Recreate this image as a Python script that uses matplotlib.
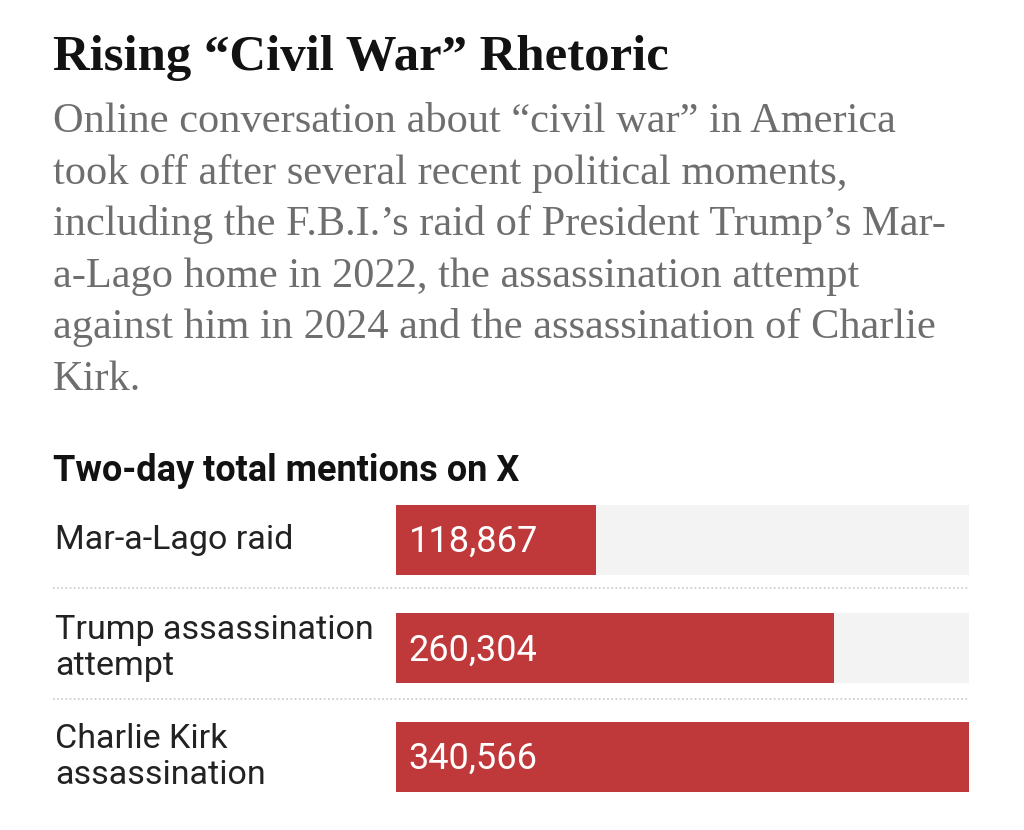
import matplotlib
matplotlib.use("Agg")
import matplotlib.pyplot as plt
import matplotlib.transforms as mtransforms

# data
events = ["Mar-a-Lago raid", "Trump assassination\nattempt", "Charlie Kirk\nassassination"]
mentions = [118867, 260304, 340566]

title = "Rising \u201cCivil War\u201d Rhetoric"
subtitle_lines = [
    "Online conversation about \u201ccivil war\u201d in America",
    "took off after several recent political moments,",
    "including the F.B.I.\u2019s raid of President Trump\u2019s Mar-",
    "a-Lago home in 2022, the assassination attempt",
    "against him in 2024 and the assassination of Charlie",
    "Kirk.",
]
heading = "Two-day total mentions on X"

RED = "#bf383a"
BG = "#f3f3f3"
SERIF = ["Liberation Serif", "DejaVu Serif"]
NARROW = ["Roboto", "DejaVu Sans"]

fig = plt.figure(figsize=(10.24, 8.3), dpi=100)
W, H = 1024, 830

fig.text(53 / W, 1 - 70 / H, title, family=SERIF, weight="bold",
         fontsize=36.5, color="#121212", va="baseline")
for i, line in enumerate(subtitle_lines):
    fig.text(53 / W, 1 - (132 + 51.6 * i) / H, line, family=SERIF,
             fontsize=30.5, color="#6e6e6e", va="baseline")
fig.text(53 / W, 1 - 481 / H, heading, family=NARROW, weight="bold",
         fontsize=26, color="#121212", va="baseline")

# bars
row = 108.75
ax = fig.add_axes([396 / W, 1 - (539.5 + 2.5 * row) / H, 573 / W, 3 * row / H])
ax.set_xlim(0, max(mentions))
ax.set_ylim(2.5, -0.5)
ypos = list(range(len(events)))
ax.barh(ypos, [max(mentions)] * len(events), height=70 / row, color=BG)
ax.barh(ypos, mentions, height=70 / row, color=RED)
ax.axis("off")

trans = mtransforms.blended_transform_factory(ax.transAxes, ax.transData)
for y, lab, v in zip(ypos, events, mentions):
    ax.text((55 - 396) / 573, y, lab, transform=trans, family=NARROW,
            fontsize=24.5, color="#222222", va="center", ha="left", linespacing=1.15)
    ax.annotate(f"{v:,}", xy=(0, y), xytext=(9, -1.5), textcoords="offset points",
                family=NARROW, fontsize=26, color="white", va="center", ha="left")

for y in [0.45, 1.47]:
    ax.plot([(53 - 396) / 573, 1], [y, y], transform=trans, clip_on=False,
            color="#c8c8c8", lw=1.2, ls=(0, (1, 1.5)))

fig.savefig("out.png", dpi=100, facecolor="white")
